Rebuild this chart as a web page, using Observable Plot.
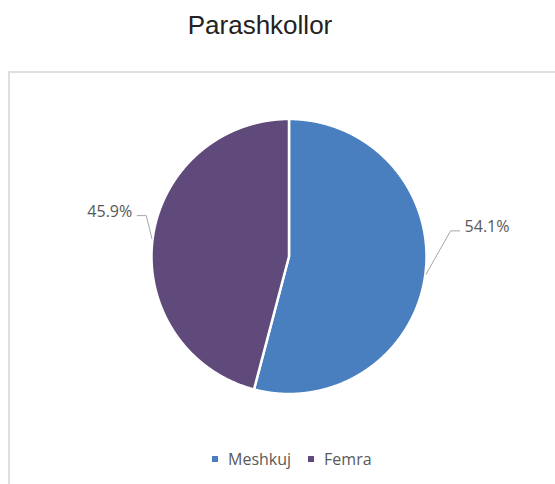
<!DOCTYPE html>
<html>
<head>
<meta charset="utf-8">
<script src="https://cdn.jsdelivr.net/npm/d3@7"></script>
<script src="https://cdn.jsdelivr.net/npm/@observablehq/plot@0.6"></script>
<style>
  html, body { margin: 0; padding: 0; background: #fff; }
  body { width: 555px; height: 484px; overflow: hidden; position: relative; }
  #title { position: absolute; left: 0; top: 12px; width: 520px; text-align: center;
           font: 26px "Liberation Sans", Arial, sans-serif; line-height: 26px; color: #222; }
  #frame { position: absolute; left: 8px; top: 71px; width: 620px; height: 520px;
           border: 2px solid #dfdfdf; box-sizing: border-box; }
  #chart { position: absolute; left: 0; top: 71px; }
  #legend { position: absolute; left: 212px; top: 448px; }
  #legend > div { font-family: "Open Sans", sans-serif; font-size: 16px; color: #595959;
                  min-height: 0; line-height: 22px; margin: 0; }
  #legend > div > * { margin-right: 17px; }
  #legend svg { margin-right: 10px; }
</style>
</head>
<body>
<div id="title"></div>
<div id="frame"></div>
<div id="chart"></div>
<div id="legend"></div>
<script>
// ---- data ----
const title = "Parashkollor";
const categories = ["Meshkuj", "Femra"];
const values = [54.1, 45.9];
const labels = ["54.1%", "45.9%"];
const colors = ["#4a7fbf", "#5f4a7b"];

document.getElementById("title").textContent = title;

// ---- layout ----
const W = 555, H = 413;
const R = 137.5, CX = 288.5, CY = 185;
// leader elbow placement per side (radius factor, rotation toward 12 o'clock in degrees)
const elbowStyle = {right: {r: 1.19, rot: 16.4}, left: {r: 1.08, rot: 8.6}};

const rows = categories.map((c, i) => ({category: c, value: values[i], label: labels[i]}));
const arcs = d3.pie().sort(null).value(d => d.value)(rows);

// slice outlines (unit circle geometry from pie angles)
const slicePts = arcs.flatMap(a => {
  const n = Math.ceil((a.endAngle - a.startAngle) / 0.005);
  const pts = [{x: 0, y: 0, category: a.data.category}];
  for (let k = 0; k <= n; ++k) {
    const t = a.startAngle + (a.endAngle - a.startAngle) * k / n;
    pts.push({x: Math.sin(t), y: Math.cos(t), category: a.data.category});
  }
  return pts;
});

// leader lines and labels
const px = 1 / R;
const leaders = [];
const labelPts = [];
arcs.forEach(a => {
  const mid = (a.startAngle + a.endAngle) / 2;
  const side = Math.sin(mid) >= 0 ? 1 : -1;
  const st = elbowStyle[side > 0 ? "right" : "left"];
  const p0 = {x: Math.sin(mid) * 1.005, y: Math.cos(mid) * 1.005};
  const rot = mid - side * st.rot * Math.PI / 180;
  const e = {x: Math.sin(rot) * st.r, y: Math.cos(rot) * st.r};
  const h = {x: e.x + side * 9 * px, y: e.y};
  for (const p of [p0, e, h]) leaders.push({...p, category: a.data.category});
  labelPts.push({x: h.x + side * 5 * px, y: e.y, label: a.data.label, anchor: side > 0 ? "start" : "end"});
});

const chart = Plot.plot({
  width: W,
  height: H,
  margin: 0,
  style: {background: "transparent", overflow: "visible"},
  x: {domain: [-1, 1], range: [CX - R, CX + R], axis: null},
  y: {domain: [-1, 1], range: [CY + R, CY - R], axis: null},
  color: {domain: categories, range: colors},
  marks: [
    Plot.line(slicePts, {x: "x", y: "y", z: "category", fill: "category",
      stroke: "white", strokeWidth: 2.5, curve: "linear-closed", strokeLinejoin: "round"}),
    Plot.line(leaders, {x: "x", y: "y", z: "category", stroke: "#a6a6a6", strokeWidth: 1}),
    Plot.text(labelPts.filter(d => d.anchor === "start"), {x: "x", y: "y", text: "label",
      textAnchor: "start", lineAnchor: "bottom", dy: 1, fill: "#595959",
      fontSize: 16, fontFamily: "Open Sans"}),
    Plot.text(labelPts.filter(d => d.anchor === "end"), {x: "x", y: "y", text: "label",
      textAnchor: "end", lineAnchor: "bottom", dy: 1, fill: "#595959",
      fontSize: 16, fontFamily: "Open Sans"})
  ]
});
document.getElementById("chart").appendChild(chart);

const legend = chart.legend("color", {swatchSize: 6});
document.getElementById("legend").appendChild(legend);
</script>
</body>
</html>
